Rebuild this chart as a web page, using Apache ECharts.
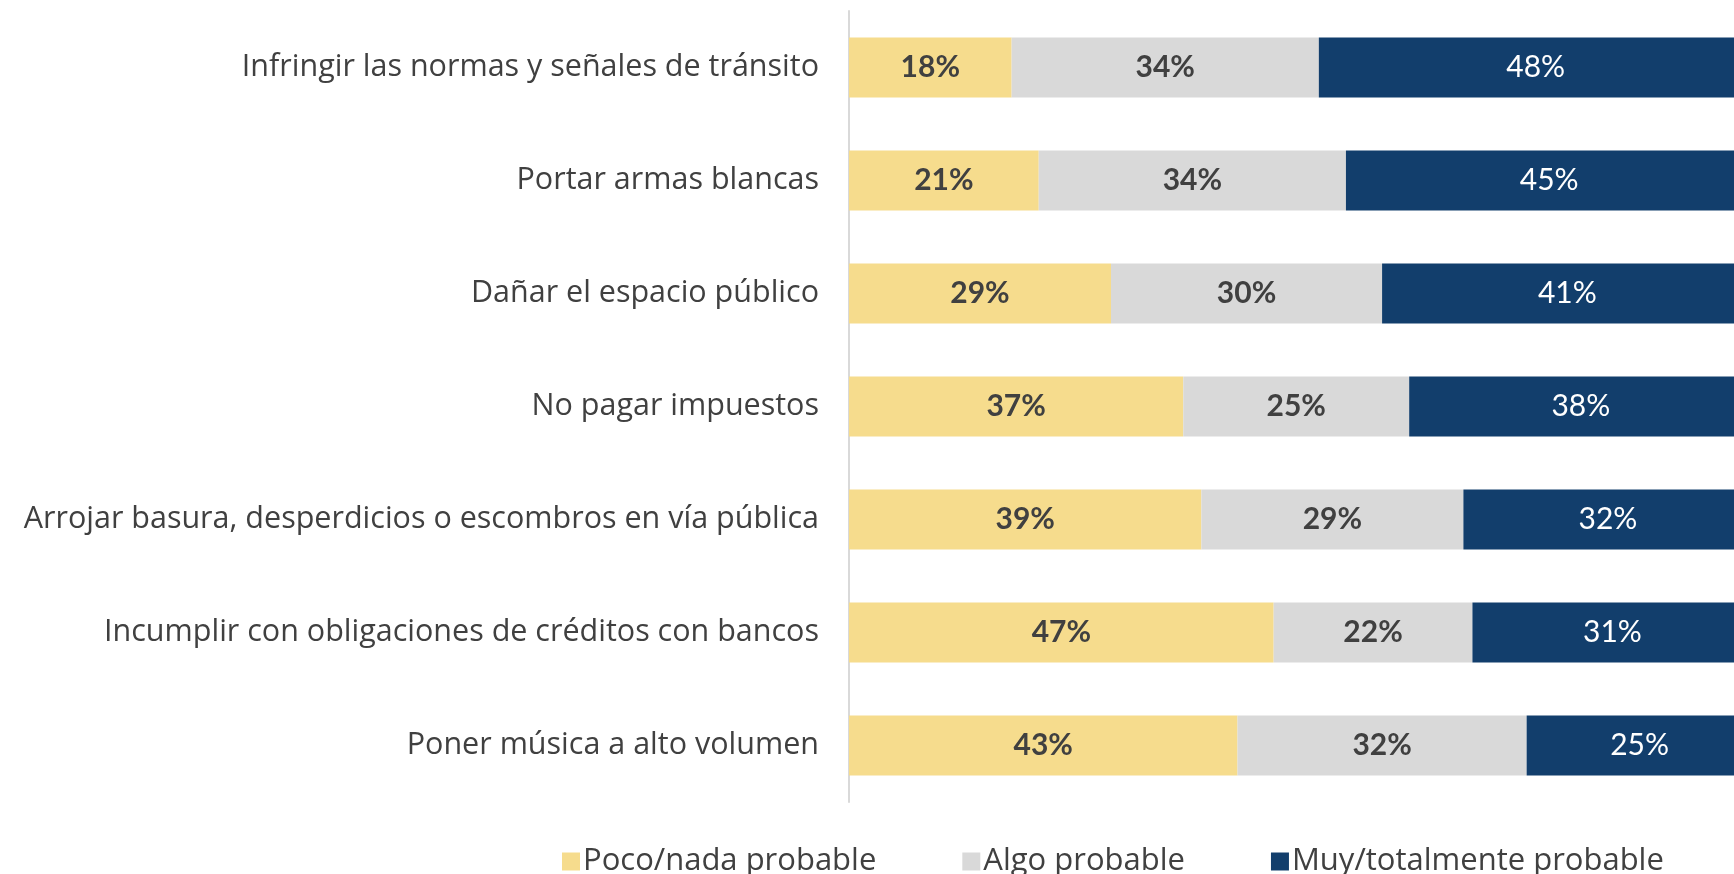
<!DOCTYPE html>
<html>
<head>
<meta charset="utf-8">
<script src="https://cdn.jsdelivr.net/npm/echarts@6/dist/echarts.min.js"></script>
<style>
html, body { margin: 0; padding: 0; background: #fff; }
#chart { width: 1734px; height: 874px; }
</style>
</head>
<body>
<div id="chart"></div>
<script>
const categories = [
  'Infringir las normas y señales de tránsito',
  'Portar armas blancas',
  'Dañar el espacio público',
  'No pagar impuestos',
  'Arrojar basura, desperdicios o escombros en vía pública',
  'Incumplir con obligaciones de créditos con bancos',
  'Poner música a alto volumen'
];
const seriesNames = ['Poco/nada probable', 'Algo probable', 'Muy/totalmente probable'];
const poco = [18, 21, 29, 37, 39, 47, 43];
const algo = [34, 34, 30, 25, 29, 22, 32];
const muy = [48, 45, 41, 38, 32, 31, 25];

const colors = ['#f6dc8d', '#d9d9d9', '#123e6c'];
const labelColors = ['#404040', '#404040', '#ffffff'];
const font = '"Open Sans", Lato, sans-serif';
const barFont = 'Lato, "Open Sans", sans-serif';

let chart = echarts.init(document.getElementById('chart'));

function makeSeries(name, data, i) {
  return {
    name: name,
    type: 'bar',
    stack: 'total',
    barWidth: 60,
    clip: false,
    data: data,
    itemStyle: { color: colors[i] },
    label: {
      show: true,
      position: 'inside',
      formatter: '{c}%',
      color: labelColors[i],
      fontFamily: barFont,
      fontSize: 30,
      fontWeight: i === 2 ? 'normal' : 'bold'
    }
  };
}

let option = {
  animation: false,
  color: colors,
  grid: { left: 849, right: 0, top: 11, bottom: 72 },
  legend: {
    data: seriesNames,
    left: 557,
    top: 841,
    itemWidth: 18,
    itemHeight: 18,
    itemGap: 86,
    icon: 'rect',
    textStyle: { fontFamily: font, fontSize: 31, color: '#404040', padding: [0, 0, 0, -2] }
  },
  // the full 100% runs a little past the right edge of the picture
  xAxis: {
    type: 'value',
    min: 0,
    max: 97.95,
    show: false
  },
  yAxis: {
    type: 'category',
    inverse: true,
    data: categories,
    axisLine: { show: true, lineStyle: { color: '#d9d9d9', width: 2 } },
    axisTick: { show: false },
    axisLabel: { margin: 30, fontFamily: font, fontSize: 30.5, color: '#404040' }
  },
  series: [
    makeSeries(seriesNames[0], poco, 0),
    makeSeries(seriesNames[1], algo, 1),
    makeSeries(seriesNames[2], muy, 2)
  ]
};

chart.setOption(option);
</script>
</body>
</html>
